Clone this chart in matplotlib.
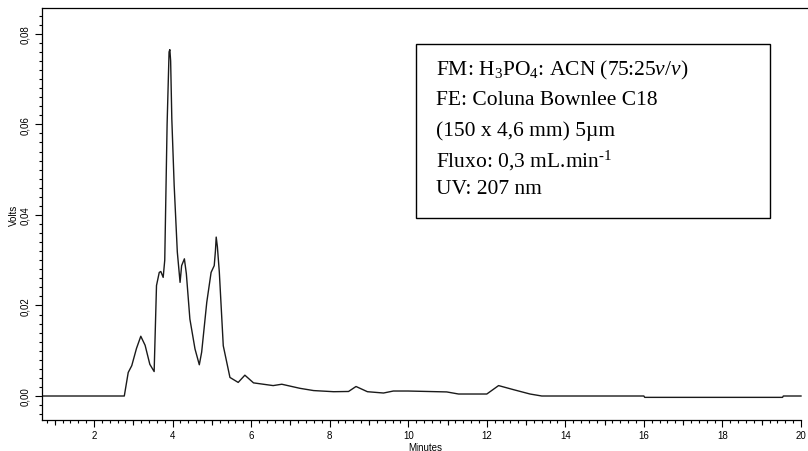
import numpy as np
import matplotlib.pyplot as plt
from matplotlib.ticker import MultipleLocator, FuncFormatter

plt.rcParams['mathtext.fontset'] = 'custom'
plt.rcParams['mathtext.rm'] = 'Liberation Serif'
plt.rcParams['mathtext.it'] = 'Liberation Serif:italic'

# chromatogram trace (minutes, volts)
time_min = [0.667, 2.77, 2.87, 2.96, 3.08, 3.19, 3.30, 3.42, 3.53, 3.59, 3.66, 3.70, 3.76,
            3.80, 3.86, 3.91, 3.93, 3.95, 3.98, 4.04, 4.12, 4.19, 4.23, 4.30, 4.35, 4.44,
            4.57, 4.68, 4.74, 4.87, 4.98, 5.06, 5.09, 5.11, 5.14, 5.19, 5.29, 5.46, 5.67,
            5.84, 6.06, 6.56, 6.78, 7.24, 7.59, 8.10, 8.48, 8.67, 8.96, 9.37, 9.62, 10.0,
            10.98, 11.28, 12.0, 12.3, 12.68, 13.1, 13.4, 16.0, 16.02, 19.53, 19.55, 20.0]
volts = [0.0, 0.0, 0.0052, 0.0067, 0.0105, 0.0132, 0.0112, 0.0070, 0.0054, 0.0244, 0.0273,
         0.0275, 0.0262, 0.030, 0.060, 0.0760, 0.0765, 0.0740, 0.0612, 0.0465, 0.0318,
         0.0251, 0.0288, 0.0303, 0.0270, 0.0170, 0.0104, 0.0069, 0.0097, 0.0207, 0.0273,
         0.0288, 0.0320, 0.0351, 0.0330, 0.0273, 0.0111, 0.0041, 0.0030, 0.0046, 0.0029,
         0.0023, 0.0026, 0.0017, 0.0012, 0.00095, 0.0010, 0.0021, 0.00095, 0.00066, 0.0011,
         0.0011, 0.0009, 0.00044, 0.00044, 0.0023, 0.0014, 0.00044, 0.0, 0.0, -0.0003,
         -0.0003, 0.0, 0.0]

info_lines = ['FM: H$_3$PO$_4$: ACN (75:25$\\mathit{v/v}$)',
              'FE: Coluna Bownlee C18',
              '(150 x 4,6 mm) 5\u00b5m',
              'Fluxo: 0,3 mL.min$^{\\mathrm{\u2010}1}$',
              'UV: 207 nm']

W, H = 808, 452
fig = plt.figure(figsize=(W / 100, H / 100), dpi=100)
ax = fig.add_axes([41.7 / W, 1 - 421 / H, 1 - 41.7 / W, (421 - 9) / H])

ax.plot(time_min, volts, color='#1a1a1a', lw=1.0)

x0, x1 = 0.667, 20.0
ax.set_xlim(x0, x1 + 7 / 39.26)
ax.set_ylim(-0.0053, 0.0857)
ax.spines['right'].set_visible(False)
ax.spines['bottom'].set_bounds(x0, x1)
for s in ax.spines.values():
    s.set_linewidth(0.9)

ax.yaxis.set_major_locator(MultipleLocator(0.02))
ax.yaxis.set_minor_locator(MultipleLocator(0.002))
ax.yaxis.set_major_formatter(FuncFormatter(lambda v, p: f'{v:.2f}'.replace('.', ',')))
ax.set_xticks(np.arange(2, 20.01, 2))
ax.set_xticks(np.arange(0.8, 20.01, 0.2), minor=True)
ax.xaxis.set_major_formatter(FuncFormatter(lambda v, p: f'{v:.0f}'))
ax.tick_params(which='major', direction='out', length=5, width=0.8,
               labelsize=7, pad=2)
ax.tick_params(which='minor', direction='out', length=2.5, width=0.8)
ax.tick_params(axis='y', which='major', pad=3)
for lab in ax.get_yticklabels():
    lab.set_rotation(90)
    lab.set_va('center')
for lab in ax.get_xticklabels() + ax.get_yticklabels():
    lab.set_family('Liberation Sans')

# medium ticks at odd minutes
sec = ax.secondary_xaxis('bottom')
sec.set_xticks(np.arange(1, 20, 2))
sec.set_xticklabels([])
sec.tick_params(length=3.8, width=0.8, direction='out')
sec.spines['bottom'].set_visible(False)

ax.set_xlabel('Minutes', fontsize=7, family='Liberation Sans', labelpad=2)
ax.set_ylabel('Volts', fontsize=7, family='Liberation Sans', labelpad=1)

# info box
box = plt.Rectangle((416 / W, 1 - 219 / H), (770 - 416) / W, (219 - 45) / H,
                    transform=fig.transFigure, fill=False, ec='black', lw=1.0)
fig.add_artist(box)
line_y = [70, 101, 131, 161, 190]
for txt, yy in zip(info_lines, line_y):
    fig.text(436 / W, 1 - yy / H, txt, family='Liberation Serif', fontsize=15.5,
             va='center', ha='left')

fig.savefig('out.png', dpi=100)
